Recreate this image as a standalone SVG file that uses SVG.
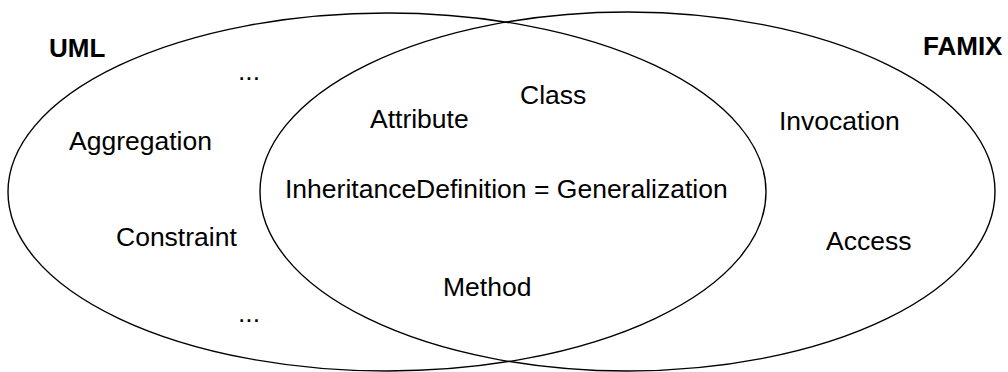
<svg xmlns="http://www.w3.org/2000/svg" width="1008" height="372" viewBox="0 0 1008 372">
  <style>
    .set { fill: none; stroke: #000; stroke-width: 1.4; }
    .lbl { font-family: "Liberation Sans", Arial, sans-serif; font-size: 26.5px; fill: #000; }
    .title { font-family: "Liberation Sans", Arial, sans-serif; font-size: 26px; font-weight: bold; fill: #000; }
  </style>
  <rect width="1008" height="372" fill="#fff"/>

  <!-- the two metamodel sets -->
  <g id="uml">
    <ellipse class="set" cx="387" cy="192" rx="379" ry="179"/>
    <text class="title" x="49" y="57">UML</text>
  </g>
  <g id="famix">
    <ellipse class="set" cx="627.5" cy="191.5" rx="367.5" ry="179.5"/>
    <text class="title" x="923" y="55">FAMIX</text>
  </g>

  <!-- UML-only concepts -->
  <g id="uml-only">
    <text class="lbl" x="238" y="80">...</text>
    <text class="lbl" x="69" y="150">Aggregation</text>
    <text class="lbl" x="116" y="246">Constraint</text>
    <text class="lbl" x="238" y="322">...</text>
  </g>

  <!-- shared concepts -->
  <g id="shared">
    <text class="lbl" x="520" y="104">Class</text>
    <text class="lbl" x="370" y="128">Attribute</text>
    <text class="lbl" x="285" y="198">InheritanceDefinition = Generalization</text>
    <text class="lbl" x="443" y="296">Method</text>
  </g>

  <!-- FAMIX-only concepts -->
  <g id="famix-only">
    <text class="lbl" x="779" y="130">Invocation</text>
    <text class="lbl" x="826" y="250">Access</text>
  </g>

  <g id="connectors"/>
</svg>
